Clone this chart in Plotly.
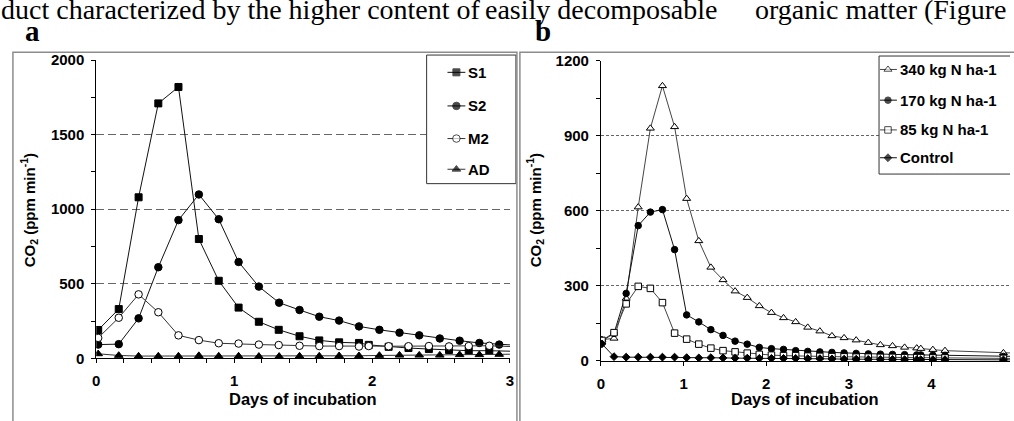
import plotly.graph_objects as go

W, H = 1014, 421

# ---------------- Panel a data (days, CO2 ppm/min) ----------------
days_a_reg = [0.014, 0.163, 0.307, 0.45, 0.596, 0.744, 0.888, 1.032, 1.179, 1.326, 1.474,
              1.617, 1.761, 1.905, 2.053, 2.199, 2.342, 2.491, 2.635, 2.778, 2.922, 3.068]
days_a_irr = [0.014, 0.163, 0.307, 0.45, 0.596, 0.744, 0.888, 1.032, 1.179, 1.323, 1.474,
              1.617, 1.761, 1.905, 1.976, 2.12, 2.264, 2.412, 2.558, 2.701, 2.85, 3.12]
S1 = [190, 330, 1080, 1710, 1820, 800, 520, 340, 245, 191, 148, 120, 107, 103, 90, 77, 69, 62, 56, 51, 51, 45]
S2 = [92, 95, 268, 611, 927, 1099, 933, 646, 481, 373, 324, 279, 253, 214, 191, 172, 154, 133, 118, 103, 92, 86]
M2 = [137, 272, 429, 309, 154, 122, 101, 99, 92, 89, 84, 82, 82, 79, 82, 81, 81, 82, 80, 82, 84, 75]
AD = [30, 19, 15, 15, 15, 18, 15, 15, 13, 13, 15, 15, 17, 17, 19, 21, 21, 21, 24, 24, 26, 28]

# ---------------- Panel b data ----------------
days_b = [0.012, 0.158, 0.305, 0.451, 0.598, 0.744, 0.891, 1.037, 1.184, 1.330, 1.477,
          1.623, 1.770, 1.916, 2.063, 2.209, 2.356, 2.502, 2.649, 2.795, 2.942, 3.088,
          3.235, 3.381, 3.528, 3.674, 3.821, 3.87, 4.016, 4.163, 4.87, 5.02]
N340 = [85, 90, 250, 615, 930, 1100, 936, 649, 480, 374, 324, 279, 253, 220, 193, 172,
        156, 134, 119, 100, 92, 83, 73, 64, 60, 54, 51, 49, 45, 41, 32, 31]
N170 = [80, 110, 270, 541, 595, 605, 445, 184, 156, 125, 102, 79, 67, 54, 49, 46,
        41, 38, 36, 34, 32, 30, 28, 27, 26, 25, 24, 24, 23, 22, 18, 18]
N85 = [82, 113, 228, 298, 290, 233, 111, 87, 67, 51, 41, 36, 31, 26, 23, 21,
       21, 19, 18, 17, 16, 15, 15, 14, 14, 13, 13, 13, 12, 12, 10, 10]
CTRL = [68, 17, 15, 15, 15, 15, 15, 13, 12, 13, 12, 11, 11, 10, 10, 10,
        10, 9, 9, 8, 7, 7, 6, 6, 6, 5, 5, 5, 5, 5, 4, 4]

names_a = ["S1", "S2", "M2", "AD"]
names_b = ["340 kg N ha-1", "170 kg N ha-1", "85 kg N ha-1", "Control"]

SANS = "Liberation Sans, Arial, sans-serif"
SERIF = "Liberation Serif, Times New Roman, serif"


def X(px):
    return px / W


def Y(py):
    return 1 - py / H


# marker styles
sty_a = {
    "S1": dict(symbol="square", size=7, color="black", line=dict(color="black", width=1)),
    "S2": dict(symbol="circle", size=7.5, color="black", line=dict(color="black", width=1)),
    "M2": dict(symbol="circle", size=7.5, color="white", line=dict(color="black", width=1)),
    "AD": dict(symbol="triangle-up", size=7.5, color="black", line=dict(color="black", width=1)),
}
line_a = {"S1": "#111111", "S2": "#111111", "M2": "#333333", "AD": "#333333"}
sty_b = {
    names_b[0]: dict(symbol="triangle-up", size=7, color="white", line=dict(color="black", width=1)),
    names_b[1]: dict(symbol="circle", size=6.5, color="black", line=dict(color="black", width=1)),
    names_b[2]: dict(symbol="square", size=6.5, color="white", line=dict(color="black", width=1)),
    names_b[3]: dict(symbol="diamond", size=6, color="black", line=dict(color="black", width=1)),
}
line_b = {names_b[0]: "#444444", names_b[1]: "#111111", names_b[2]: "#444444", names_b[3]: "#111111"}

fig = go.Figure()

series_a = [(days_a_irr, S1, "S1"), (days_a_reg, S2, "S2"), (days_a_irr, M2, "M2"), (days_a_reg, AD, "AD")]
for xs, ys, nm in series_a:
    fig.add_trace(go.Scatter(x=xs, y=ys, name=nm, mode="lines+markers", xaxis="x", yaxis="y",
                             line=dict(color=line_a[nm], width=1), marker=sty_a[nm], showlegend=False))

series_b = [(days_b, N340, names_b[0]), (days_b, N170, names_b[1]), (days_b, N85, names_b[2]), (days_b, CTRL, names_b[3])]
for xs, ys, nm in series_b:
    fig.add_trace(go.Scatter(x=xs, y=ys, name=nm, mode="lines+markers", xaxis="x2", yaxis="y2",
                             line=dict(color=line_b[nm], width=1), marker=sty_b[nm], showlegend=False))

# ---------------- manual legends drawn on a pixel overlay axis ----------------
leg_a_box = (426, 516, 48, 182)
leg_a_rows = [66, 101, 135, 167]
leg_a_line = (447, 456, 465)
leg_b_box = (882, 1030, 49, 172)
leg_b_rows = [63, 95, 126, 155]
leg_b_line = (883, 891, 900)

for (x0, x1, y0, y1) in (leg_a_box, leg_b_box):
    fig.add_trace(go.Scatter(x=[x0, x1, x1, x0, x0], y=[y0, y0, y1, y1, y0], mode="lines",
                             fill="toself", fillcolor="white", line=dict(color="#333333", width=1),
                             xaxis="x3", yaxis="y3", showlegend=False, hoverinfo="skip"))

annotations = []
for nm, ry in zip(names_a, leg_a_rows):
    st = dict(sty_a[nm])
    st["size"] = [0, st["size"], 0]
    fig.add_trace(go.Scatter(x=list(leg_a_line), y=[ry] * 3, mode="lines+markers", marker=st,
                             line=dict(color=line_a[nm], width=1), xaxis="x3", yaxis="y3",
                             showlegend=False, hoverinfo="skip"))
    annotations.append(dict(x=X(leg_a_line[2] + 1), y=Y(ry), xref="paper", yref="paper", text=nm,
                            showarrow=False, xanchor="left", yanchor="middle",
                            font=dict(family=SANS, size=15, color="black", weight="bold")))
for nm, ry in zip(names_b, leg_b_rows):
    st = dict(sty_b[nm])
    st["size"] = [0, st["size"], 0]
    fig.add_trace(go.Scatter(x=list(leg_b_line), y=[ry] * 3, mode="lines+markers", marker=st,
                             line=dict(color=line_b[nm], width=1), xaxis="x3", yaxis="y3",
                             showlegend=False, hoverinfo="skip"))
    annotations.append(dict(x=X(leg_b_line[2] + 1), y=Y(ry), xref="paper", yref="paper", text=nm,
                            showarrow=False, xanchor="left", yanchor="middle",
                            font=dict(family=SANS, size=15, color="black", weight="bold")))

tickfont = dict(family=SANS, size=15, color="black", weight="bold")
common = dict(showline=True, linecolor="black", linewidth=1, zeroline=False, ticks="outside",
              ticklen=4, tickcolor="black", tickwidth=1, tickfont=tickfont, fixedrange=True)

fig.update_layout(
    width=W, height=H, margin=dict(l=0, r=0, t=0, b=0),
    paper_bgcolor="white", plot_bgcolor="rgba(0,0,0,0)",
    xaxis=dict(domain=[X(93), X(510)], range=[0, 3], anchor="y", tickvals=[0, 1, 2, 3],
               showgrid=False, minor=dict(dtick=0.2, ticks="outside", ticklen=4, tickcolor="black", showgrid=False),
               ticklabelstandoff=5, **common),
    yaxis=dict(domain=[Y(364), Y(53.3)], range=[0, 2000], anchor="x", tickvals=[0, 500, 1000, 1500, 2000],
               showgrid=True, gridcolor="#666666", griddash="8px,4px", gridwidth=1,
               minor=dict(dtick=250, ticks="outside", ticklen=4, tickcolor="black", showgrid=False),
               ticklabelstandoff=4, **common),
    xaxis2=dict(domain=[X(601.7), 1], range=[0, (W - 601.7) / 83.3], anchor="y2", tickvals=[0, 1, 2, 3, 4],
                showgrid=False, ticklabelstandoff=5, **common),
    yaxis2=dict(domain=[Y(366.7), Y(54)], range=[0, 1200], anchor="x2", tickvals=[0, 300, 600, 900, 1200],
                showgrid=True, gridcolor="#666666", griddash="3px,2px", gridwidth=1,
                minor=dict(dtick=150, ticks="outside", ticklen=4, tickcolor="black", showgrid=False),
                ticklabelstandoff=4, **common),
    xaxis3=dict(domain=[0, 1], range=[0, W], anchor="y3", visible=False, fixedrange=True),
    yaxis3=dict(domain=[0, 1], range=[H, 0], anchor="x3", visible=False, fixedrange=True),
    showlegend=False,
)

# axis titles
title_font = dict(family=SANS, size=16.5, color="black", weight="bold")
ytitle_font = dict(family=SANS, size=15, color="black", weight="bold")
ytitle = "CO<sub>2</sub> (ppm min<sup>-1</sup>)"
letter_font = dict(family=SERIF, size=29, color="black", weight="bold")
body_font = dict(family=SERIF, size=28, color="black")
annotations += [
    dict(x=X((93 + 510) / 2), y=Y(406), xref="paper", yref="paper", text="Days of incubation",
         showarrow=False, xanchor="center", yanchor="middle", font=title_font),
    dict(x=X((601.7 + W) / 2), y=Y(406), xref="paper", yref="paper", text="Days of incubation",
         showarrow=False, xanchor="center", yanchor="middle", font=title_font),
    dict(x=X(25), y=Y(210), xref="paper", yref="paper", text=ytitle, textangle=-90,
         showarrow=False, xanchor="center", yanchor="middle", font=ytitle_font),
    dict(x=X(535), y=Y(210), xref="paper", yref="paper", text=ytitle, textangle=-90,
         showarrow=False, xanchor="center", yanchor="middle", font=ytitle_font),
    # panel letters
    dict(x=X(19), y=Y(22.5), xref="paper", yref="paper", text="a", showarrow=False,
         xanchor="left", yanchor="middle", font=letter_font),
    dict(x=X(533), y=Y(22.5), xref="paper", yref="paper", text="b", showarrow=False,
         xanchor="left", yanchor="middle", font=letter_font),
    # cut-off line of (justified) body text at the top of the page
    dict(x=X(-5), y=Y(0), xref="paper", yref="paper",
         text="duct characterized by the higher content of",
         showarrow=False, xanchor="left", yanchor="middle", font=body_font),
    dict(x=X(483), y=Y(0), xref="paper", yref="paper",
         text="easily decomposable",
         showarrow=False, xanchor="left", yanchor="middle", font=body_font),
    dict(x=X(1012), y=Y(0), xref="paper", yref="paper",
         text="organic matter (Figure",
         showarrow=False, xanchor="right", yanchor="middle", font=body_font),
]
fig.update_layout(annotations=annotations)

# panel frames
frame = dict(color="#8c8c8c", width=1.5)
fig.add_shape(type="rect", xref="paper", yref="paper", x0=X(9), x1=X(517), y0=Y(430), y1=Y(45), line=frame, layer="above")
fig.add_shape(type="rect", xref="paper", yref="paper", x0=X(520), x1=X(1030), y0=Y(430), y1=Y(45), line=frame, layer="above")

fig.write_html("out.html")
